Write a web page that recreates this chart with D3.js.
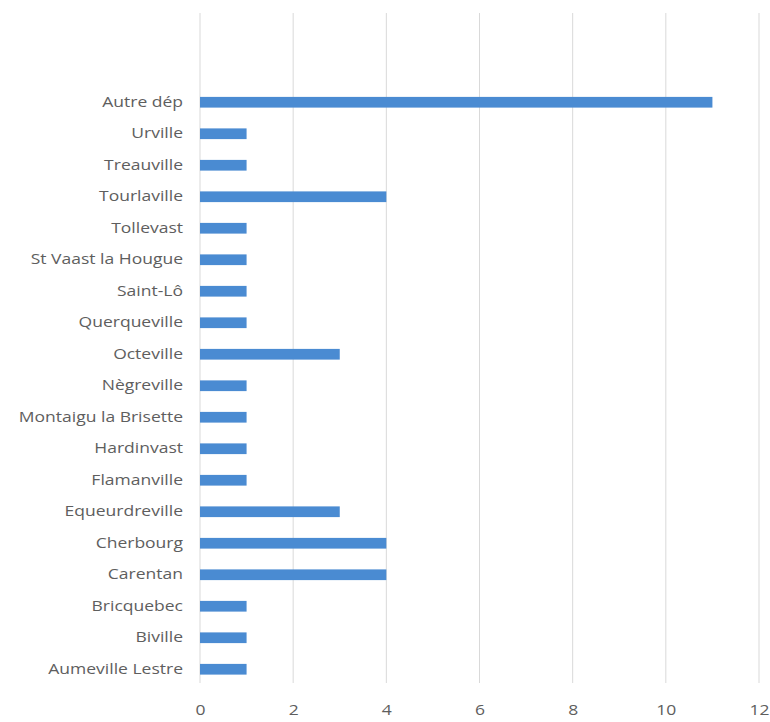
<!DOCTYPE html>
<html>
<head>
<meta charset="utf-8">
<script src="https://cdn.jsdelivr.net/npm/d3@7"></script>
<style>
  html, body { margin: 0; padding: 0; background: #ffffff; }
  svg { display: block; }
  text { font-family: "Open Sans", "Liberation Sans", sans-serif; }
</style>
</head>
<body>
<svg id="chart" width="770" height="722"></svg>
<script>
const categories = [
  "Autre dép", "Urville", "Treauville", "Tourlaville", "Tollevast",
  "St Vaast la Hougue", "Saint-Lô", "Querqueville", "Octeville", "Nègreville",
  "Montaigu la Brisette", "Hardinvast", "Flamanville", "Equeurdreville",
  "Cherbourg", "Carentan", "Bricquebec", "Biville", "Aumeville Lestre"
];
const values = [11, 1, 1, 4, 1, 1, 1, 1, 3, 1, 1, 1, 1, 3, 4, 4, 1, 1, 1];
const xTicks = [0, 2, 4, 6, 8, 10, 12];

const svg = d3.select("#chart");
const x = d3.scaleLinear().domain([0, 12]).range([200, 759]);
const y = d3.scaleBand().domain(categories).range([86.5, 685]).paddingInner(0.66).paddingOuter(0.33);

const gridTop = 13, gridBottom = 683;

// gridlines
svg.append("g").selectAll("line").data(xTicks).join("line")
  .attr("x1", d => x(d)).attr("x2", d => x(d))
  .attr("y1", gridTop).attr("y2", gridBottom)
  .attr("stroke", "#d9d9d9").attr("stroke-width", 1);

// bars
svg.append("g").selectAll("rect").data(categories).join("rect")
  .attr("x", x(0))
  .attr("y", d => y(d))
  .attr("width", (d, i) => x(values[i]) - x(0))
  .attr("height", y.bandwidth())
  .attr("fill", "#4a8bd2");

function widen(sel, k) {
  sel.each(function () {
    const w = this.getComputedTextLength();
    d3.select(this).attr("textLength", w * k).attr("lengthAdjust", "spacingAndGlyphs");
  });
}

// y axis labels
const yAxis = d3.axisLeft(y).tickSize(0).tickPadding(17);
const gy = svg.append("g").attr("transform", `translate(${x(0)},0)`).call(yAxis);
gy.select(".domain").remove();
gy.selectAll("text").attr("fill", "#5e5e5e").attr("font-size", 14)
  .style("font-family", "'Open Sans', 'Liberation Sans', sans-serif");
widen(gy.selectAll("text"), 1.25);

// x axis labels
const xAxis = d3.axisBottom(x).tickValues(xTicks).tickSize(0).tickPadding(22);
const gx = svg.append("g").attr("transform", `translate(0,${gridBottom})`).call(xAxis);
gx.select(".domain").remove();
gx.selectAll("text").attr("fill", "#5e5e5e").attr("font-size", 14)
  .style("font-family", "'Open Sans', 'Liberation Sans', sans-serif");
widen(gx.selectAll("text"), 1.25);
</script>
</body>
</html>
